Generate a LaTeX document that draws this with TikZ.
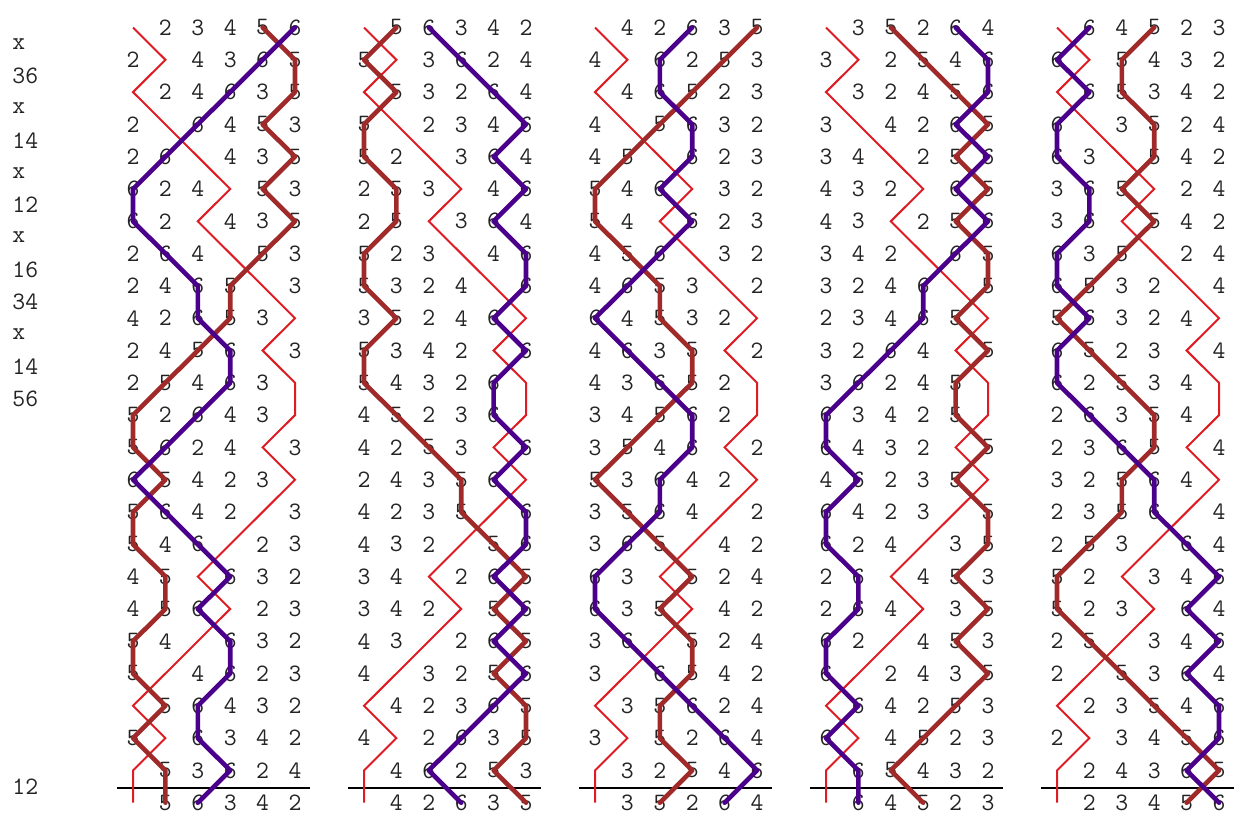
\documentclass[tikz,border=0pt]{standalone}
\usepackage{fontspec}
\definecolor{bellred}{RGB}{222,28,36}
\definecolor{bellbrown}{RGB}{160,42,42}
\definecolor{bellpurple}{RGB}{75,0,140}
\definecolor{digitgray}{RGB}{35,35,35}
% position of lead-1 bell c in rows 0..24
\expandafter\def\csname Pc1\endcsname{{1,2,1,2,3,4,3,4,5,6,5,6,6,5,6,5,4,3,4,3,2,1,2,1,1}}
\expandafter\def\csname Pc2\endcsname{{2,1,2,1,1,2,2,1,1,2,1,1,2,3,4,4,5,6,5,6,5,6,6,5,6}}
\expandafter\def\csname Pc3\endcsname{{3,4,5,6,5,6,5,6,6,5,6,5,5,6,5,6,6,5,6,5,6,5,4,3,4}}
\expandafter\def\csname Pc4\endcsname{{4,3,3,4,4,3,4,3,2,1,2,3,4,4,3,3,2,1,1,2,3,4,5,6,5}}
\expandafter\def\csname Pc5\endcsname{{5,6,6,5,6,5,6,5,4,4,3,2,1,1,2,1,1,2,2,1,1,2,1,2,2}}
\expandafter\def\csname Pc6\endcsname{{6,5,4,3,2,1,1,2,3,3,4,4,3,2,1,2,3,4,3,4,4,3,3,4,3}}
% lead heads
\expandafter\def\csname Lh0\endcsname{{1,2,3,4,5,6}}
\expandafter\def\csname Lh1\endcsname{{1,5,6,3,4,2}}
\expandafter\def\csname Lh2\endcsname{{1,4,2,6,3,5}}
\expandafter\def\csname Lh3\endcsname{{1,3,5,2,6,4}}
\expandafter\def\csname Lh4\endcsname{{1,6,4,5,2,3}}
\newcommand\bellpath[3]{%
  \edef\mySeq{\csname Pc#2\endcsname}%
  \pgfmathtruncatemacro\myPz{\mySeq[0]}%
  \gdef\myPath{}%
  \foreach \rr in {1,...,24} {%
    \pgfmathtruncatemacro\pp{\mySeq[\rr]}%
    \xdef\myPath{\myPath -- (g-#1-\rr-\pp)}}%
  \draw[#3] (g-#1-0-\myPz) \myPath;%
}
\begin{document}
\begin{tikzpicture}[x=0.5pt,y=-0.5pt,
  digitnode/.style={font=\ttfamily\fontsize{12.5}{14}\selectfont, text=digitgray, inner sep=0pt},
  pnlabel/.style={font=\ttfamily\fontsize{12.5}{14}\selectfont, text=digitgray, inner sep=0pt, anchor=west},
  redline/.style={draw=bellred, line width=1pt},
  brownline/.style={draw=bellbrown, line width=2.3pt, line cap=round, line join=round},
  purpleline/.style={draw=bellpurple, line width=2.3pt, line cap=round, line join=round},
  leadrule/.style={draw=black, line width=1pt}]
\useasboundingbox (0,0) rectangle (1246,835);
% grid
\foreach \kk in {0,...,4} {
  \foreach \rr in {0,...,24} {
    \foreach \pp in {1,...,6} {
      \coordinate (g-\kk-\rr-\pp) at ({133+231*\kk+32.4*(\pp-1)}, {27.5+32.3*\rr});
    }
  }
  \coordinate (rl-\kk) at ({117+231*\kk}, 788);
  \coordinate (rr-\kk) at ({310+231*\kk}, 788);
}
% digits
\foreach \kk in {0,...,4} {
  \edef\myLH{\csname Lh\kk\endcsname}
  \foreach \cc in {2,...,6} {
    \edef\mySeq{\csname Pc\cc\endcsname}
    \pgfmathtruncatemacro\lab{\myLH[\cc-1]}
    \foreach \rr in {0,...,24} {
      \pgfmathtruncatemacro\pp{\mySeq[\rr]}
      \node[digitnode] (d-\kk-\rr-\pp) at (g-\kk-\rr-\pp) {\lab};
    }
  }
}
% place notation labels
\foreach \ii/\tt in {1/x,2/36,3/x,4/14,5/x,6/12,7/x,8/16,9/34,10/x,11/14,12/56,24/12} {
  \node[pnlabel] (lab-\ii) at (12, {27.5+32.3*(\ii-0.5)}) {\tt};
}
% lead end rules
\foreach \kk in {0,...,4} {
  \draw[leadrule] (rl-\kk) -- (rr-\kk);
}
% bell paths
\bellpath{0}{1}{redline}
\bellpath{1}{1}{redline}
\bellpath{2}{1}{redline}
\bellpath{3}{1}{redline}
\bellpath{4}{1}{redline}
\bellpath{0}{5}{brownline}
\bellpath{1}{2}{brownline}
\bellpath{2}{6}{brownline}
\bellpath{3}{3}{brownline}
\bellpath{4}{4}{brownline}
\bellpath{0}{6}{purpleline}
\bellpath{1}{3}{purpleline}
\bellpath{2}{4}{purpleline}
\bellpath{3}{5}{purpleline}
\bellpath{4}{2}{purpleline}
\end{tikzpicture}
\end{document}
